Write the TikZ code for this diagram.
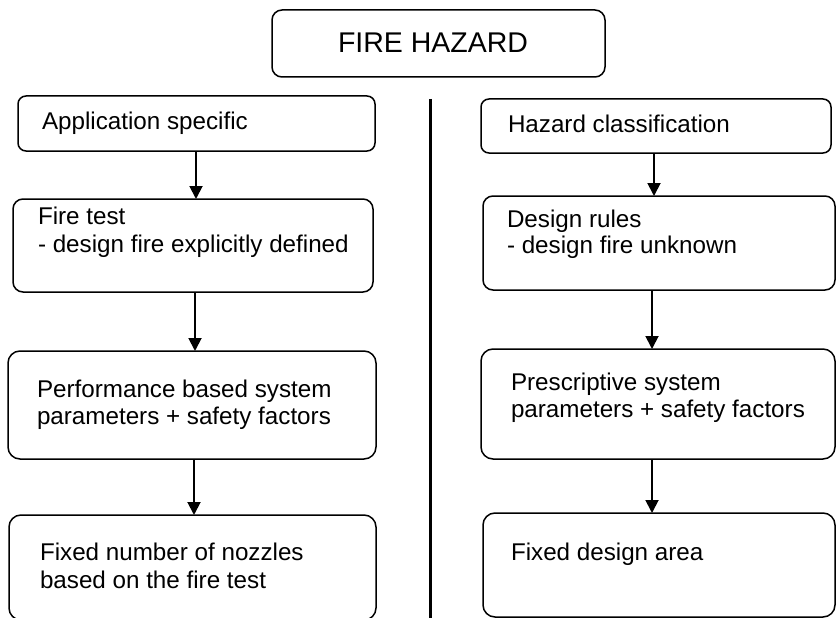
\documentclass[tikz,border=0pt]{standalone}
\usepackage{fontspec}
\setmainfont{Liberation Sans}
\usetikzlibrary{arrows.meta}
\begin{document}
\begin{tikzpicture}[x=1pt,y=-1pt,
  box/.style={draw, line width=1.5pt, rounded corners=9pt, inner sep=0pt, outer sep=0pt, anchor=north west},
  bigbox/.style={box, rounded corners=12pt},
  txt/.style={anchor=base west, inner sep=0pt, outer sep=0pt, font=\fontsize{24.2}{27.5}\selectfont},
  titletxt/.style={anchor=base west, inner sep=0pt, outer sep=0pt, font=\fontsize{28.5}{32}\selectfont},
  arr/.style={line width=1.9pt, -{Triangle[width=13pt,length=13pt]}},
  divider/.style={line width=3pt},
]
\useasboundingbox (0,0) rectangle (836,618);

% title
\node[box, rounded corners=10pt, minimum width=333pt, minimum height=67pt] (fire) at (272,10) {};
\node[titletxt] (firet) at (338,53) {FIRE HAZARD};

% left column
\node[box, rounded corners=8pt, minimum width=357pt, minimum height=55pt] (app) at (18,96) {};
\node[txt] (appt) at (42,129) {Application specific};

\node[box, rounded corners=10pt, minimum width=360pt, minimum height=93pt] (ft) at (13,199) {};
\node[txt] (ft1) at (38,224) {Fire test};
\node[txt] (ft2) at (38,252) {- design fire explicitly defined};

\node[bigbox, minimum width=368pt, minimum height=108pt] (perf) at (8,351) {};
\node[txt] (perf1) at (37,397) {Performance based system};
\node[txt] (perf2) at (37,424) {parameters + safety factors};

\node[bigbox, minimum width=367pt, minimum height=105pt] (nozz) at (9,515) {};
\node[txt] (nozz1) at (40,560) {Fixed number of nozzles};
\node[txt] (nozz2) at (40,588) {based on the fire test};

% right column
\node[box, rounded corners=8pt, minimum width=350pt, minimum height=54pt] (haz) at (481,99) {};
\node[txt] (hazt) at (508,132) {Hazard classification};

\node[box, rounded corners=10pt, minimum width=352pt, minimum height=94pt] (rules) at (483,196) {};
\node[txt] (rules1) at (507,227) {Design rules};
\node[txt] (rules2) at (507,253) {- design fire unknown};

\node[bigbox, minimum width=354pt, minimum height=110pt] (presc) at (481,349) {};
\node[txt] (presc1) at (511,390) {Prescriptive system};
\node[txt] (presc2) at (511,417) {parameters + safety factors};

\node[bigbox, minimum width=352pt, minimum height=104pt] (area) at (483,513) {};
\node[txt] (areat) at (511,560) {Fixed design area};

% arrow columns
\coordinate (cA) at (196,0);
\coordinate (cB) at (195,0);
\coordinate (cC) at (194,0);
\coordinate (cD) at (654,0);
\coordinate (cE) at (652,0);

\draw[arr] (app.south -| cA) -- (ft.north -| cA);
\draw[arr] (ft.south -| cB) -- (perf.north -| cB);
\draw[arr] (perf.south -| cC) -- (nozz.north -| cC);
\draw[arr] (haz.south -| cD) -- (rules.north -| cD);
\draw[arr] (rules.south -| cE) -- (presc.north -| cE);
\draw[arr] (presc.south -| cE) -- (area.north -| cE);

% divider
\coordinate (divtop) at (430,99);
\coordinate (divbot) at (430,620);
\draw[divider] (divtop) -- (divbot);
\end{tikzpicture}
\end{document}
